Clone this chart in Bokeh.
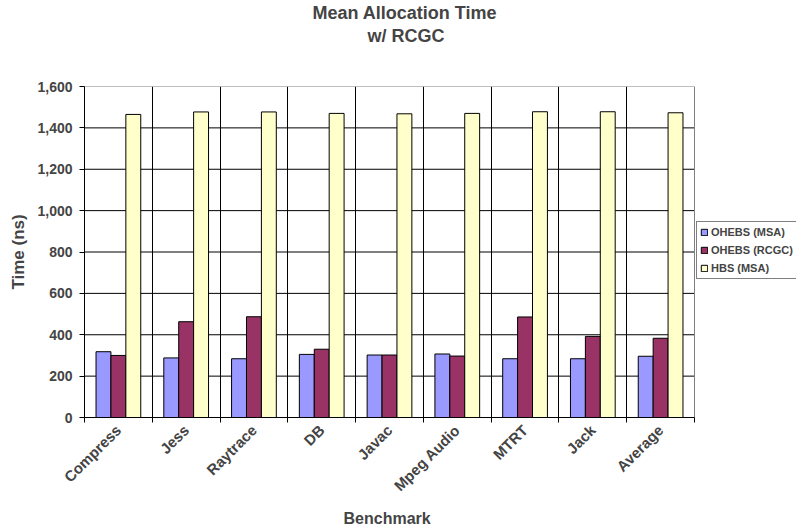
import math
from bokeh.plotting import figure
from bokeh.models import (Range1d, FixedTicker, NumeralTickFormatter, Legend, LegendItem,
                          Title, ColumnDataSource)
from bokeh.embed import file_html
from bokeh.resources import INLINE

benchmarks = ["Compress", "Jess", "Raytrace", "DB", "Javac", "Mpeg Audio", "MTRT", "Jack", "Average"]
ohebs_msa = [318, 288, 284, 305, 302, 307, 284, 284, 296]
ohebs_rcgc = [300, 463, 487, 330, 302, 297, 486, 392, 383]
hbs_msa = [1465, 1477, 1477, 1470, 1468, 1470, 1478, 1478, 1473]
y_ticks = [0, 200, 400, 600, 800, 1000, 1200, 1400, 1600]

series = [("OHEBS (MSA)", ohebs_msa, "#9999FF"),
          ("OHEBS (RCGC)", ohebs_rcgc, "#993366"),
          ("HBS (MSA)", hbs_msa, "#FFFFCC")]

FONT = "Liberation Sans"
n = len(benchmarks)
centers = [i + 0.5 for i in range(n)]
bw = 0.22
PLOT_W = 610      # pixel width of the bar area
FRAME_W = 712     # bar area + room on the right for the legend

p = figure(frame_width=FRAME_W, frame_height=331, output_backend="svg", toolbar_location=None,
           x_range=Range1d(0, n * FRAME_W / PLOT_W), y_range=Range1d(0, y_ticks[-1]),
           min_border_left=0, min_border_top=0, min_border_bottom=0, min_border_right=0)
p.margin = (0, 0, 0, 6)
p.title.visible = False
p.outline_line_color = None

# spacer between frame and subtitle, then subtitle, then main title (outermost)
p.add_layout(Title(text=" ", align="center", text_font=FONT, text_font_size="18px",
                   standoff=18), "above")
p.add_layout(Title(text="w/ RCGC", align="left", offset=283, text_font=FONT,
                   text_font_size="18px", text_font_style="bold", standoff=2), "above")
p.add_layout(Title(text="Mean Allocation Time", align="left", offset=228, text_font=FONT,
                   text_font_size="18px", text_font_style="bold", standoff=0), "above")

# horizontal grid lines limited to the bar area
p.ygrid.visible = False
inner = y_ticks[1:-1]
p.segment(x0=[0] * len(inner), x1=[n] * len(inner), y0=inner, y1=inner,
          line_color="black", line_width=1)

# vertical grid lines at category boundaries
p.xgrid.ticker = FixedTicker(ticks=list(range(1, n)))
p.xgrid.grid_line_color = "black"
p.xgrid.grid_line_alpha = 1

items = []
for k, (name, vals, color) in enumerate(series):
    off = (k - 1) * bw
    src = ColumnDataSource(dict(x=[c + off for c in centers], top=vals))
    r = p.vbar(x="x", top="top", width=bw, bottom=0, source=src, fill_color=color,
               line_color="black", line_width=1)
    items.append(LegendItem(label=name, renderers=[r]))

# plot-area border
p.quad(left=[0], right=[n], bottom=[y_ticks[0]], top=[y_ticks[-1]], fill_color=None,
       line_color="#808080", line_width=1)

legend = Legend(items=items, location=(612, 138), label_text_font=FONT,
                label_text_font_size="11px", label_text_font_style="bold",
                glyph_width=8, glyph_height=8, label_height=14, spacing=4, padding=3,
                margin=0, border_line_color="black", border_line_width=1,
                label_standoff=3, background_fill_color="white", background_fill_alpha=1)
p.add_layout(legend)

# x axis
p.xaxis.bounds = (0, n)
p.xaxis.ticker = FixedTicker(ticks=centers, minor_ticks=list(range(n + 1)))
p.xaxis.major_label_overrides = {c: b for c, b in zip(centers, benchmarks)}
p.xaxis.major_tick_out = 0
p.xaxis.major_tick_in = 0
p.xaxis.minor_tick_out = 5
p.xaxis.minor_tick_in = 0
p.xaxis.major_label_standoff = 5
p.xaxis.major_label_orientation = math.pi / 4
p.xaxis.major_label_text_font = FONT
p.xaxis.major_label_text_font_size = "15px"
p.xaxis.major_label_text_font_style = "bold"

# x-axis title, centred under the bar area
p.add_layout(Title(text="Benchmark", align="left", offset=259, text_font=FONT,
                   text_font_size="16px", text_font_style="bold", standoff=8), "below")

# y axis
p.yaxis.ticker = FixedTicker(ticks=y_ticks)
p.yaxis.formatter = NumeralTickFormatter(format="0,0")
p.yaxis.major_tick_out = 5
p.yaxis.major_tick_in = 0
p.yaxis.major_label_standoff = 7
p.yaxis.major_label_text_font = FONT
p.yaxis.major_label_text_font_size = "14px"
p.yaxis.major_label_text_font_style = "bold"
p.yaxis.axis_label = "Time (ns)"
p.yaxis.axis_label_text_font = FONT
p.yaxis.axis_label_text_font_size = "17px"
p.yaxis.axis_label_text_font_style = "bold"
p.yaxis.axis_label_standoff = 6

for ax in (p.xaxis, p.yaxis):
    ax.axis_line_color = "black"
    ax.major_tick_line_color = "black"
    ax.minor_tick_line_color = "black"
p.yaxis.minor_tick_line_color = None

open("out.html", "w").write(file_html(p, INLINE))
